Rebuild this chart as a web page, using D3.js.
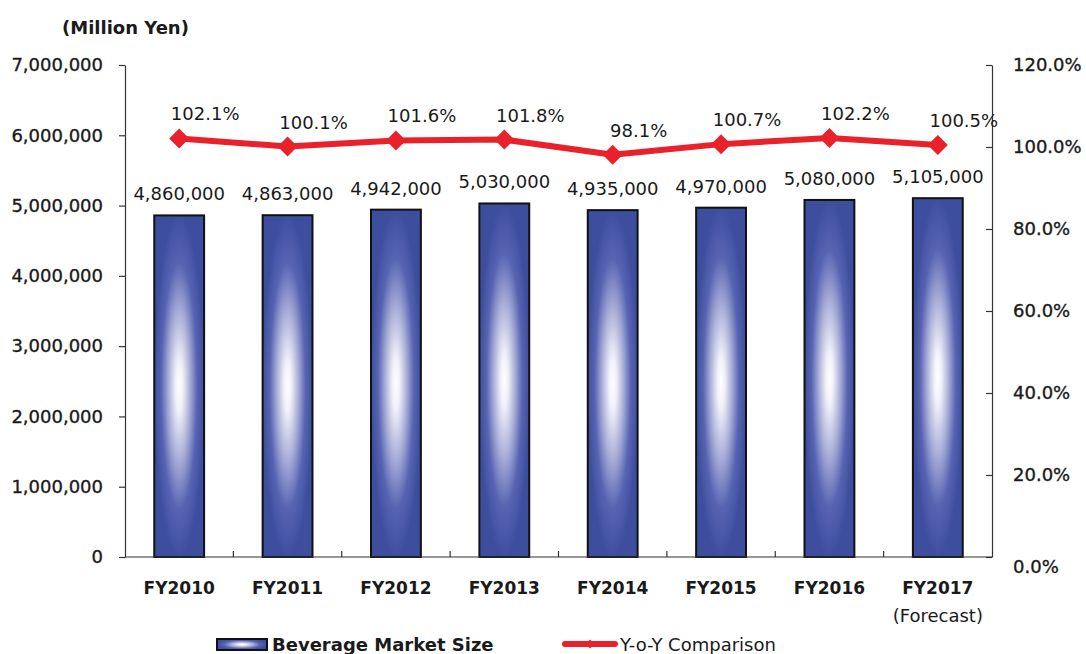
<!DOCTYPE html>
<meta charset="utf-8">
<head>
    <script src="https://d3js.org/d3.v7.min.js"></script>
    <style>
    body {
        margin: 0;
        background: #fff;
    }
    svg text {
        font-family: "DejaVu Sans", sans-serif;
        fill: #1a1a1a;
    }
    .axis path, .axis line {
        stroke: #333;
        stroke-width: 1.2;
    }
    .axis text {
        font-size: 18px;
        stroke: #1a1a1a;
        stroke-width: 0.35;
    }
    </style>
</head>
<body>
<script>

// chart data
var categories = ["FY2010", "FY2011", "FY2012", "FY2013", "FY2014", "FY2015", "FY2016", "FY2017\n(Forecast)"];
var marketSize = [4860000, 4863000, 4942000, 5030000, 4935000, 4970000, 5080000, 5105000];
var yoy = [102.1, 100.1, 101.6, 101.8, 98.1, 100.7, 102.2, 100.5];
var leftTicks = [0, 1000000, 2000000, 3000000, 4000000, 5000000, 6000000, 7000000];
var rightTicks = [0, 20, 40, 60, 80, 100, 120];

var width = 1086, height = 654;
var plot = {left: 125, right: 992, top: 65, bottom: 557};

var svg = d3.select("body").append("svg")
    .attr("width", width)
    .attr("height", height);

// gradients for the bars and the legend key
var defs = svg.append("defs");
var grad = defs.append("radialGradient")
    .attr("id", "barGrad")
    .attr("cx", 0.5).attr("cy", 0.5).attr("r", 0.5);
grad.append("stop").attr("offset", "0%").attr("stop-color", "#ffffff");
grad.append("stop").attr("offset", "15%").attr("stop-color", "#f0f0f8");
grad.append("stop").attr("offset", "45%").attr("stop-color", "#a4aad6");
grad.append("stop").attr("offset", "72%").attr("stop-color", "#5764b2");
grad.append("stop").attr("offset", "100%").attr("stop-color", "#3e4e9f");

// scales
var x = d3.scaleBand()
    .domain(categories)
    .range([plot.left, plot.right])
    .paddingInner(0.54)
    .paddingOuter(0.27);

var yL = d3.scaleLinear().domain([0, 7000000]).range([plot.bottom, plot.top]);
var yR = d3.scaleLinear().domain([0, 120]).range([plot.bottom, plot.top]);

// bars
svg.selectAll(".bar")
    .data(marketSize)
  .enter().append("rect")
    .attr("class", "bar")
    .attr("x", function(d, i) { return x(categories[i]); })
    .attr("y", function(d) { return yL(d); })
    .attr("width", x.bandwidth())
    .attr("height", function(d) { return yL(0) - yL(d); })
    .style("fill", "url(#barGrad)")
    .style("stroke", "#111")
    .style("stroke-width", 2);

// bar value labels
svg.selectAll(".barLabel")
    .data(marketSize)
  .enter().append("text")
    .attr("class", "barLabel")
    .attr("x", function(d, i) { return x(categories[i]) + x.bandwidth() / 2; })
    .attr("y", function(d) { return yL(d) - 15; })
    .attr("text-anchor", "middle")
    .style("font-size", "18px")
    .text(d3.format(","));

// left axis
svg.append("g")
    .attr("class", "axis")
    .attr("transform", "translate(" + plot.left + ",0)")
    .call(d3.axisLeft(yL)
        .tickValues(leftTicks)
        .tickSizeInner(6).tickSizeOuter(0)
        .tickPadding(16)
        .tickFormat(d3.format(",")));

// right axis
var rAxis = svg.append("g")
    .attr("class", "axis")
    .attr("transform", "translate(" + plot.right + ",0)")
    .call(d3.axisRight(yR)
        .tickValues(rightTicks)
        .tickSizeInner(-6).tickSizeOuter(0)
        .tickPadding(21)
        .tickFormat(function(d) { return d.toFixed(1) + "%"; }));
rAxis.selectAll(".tick")
    .filter(function(d) { return d === 0; })
    .select("text").attr("dy", "0.85em");

// bottom axis line with inward ticks between categories
svg.append("line")
    .attr("x1", plot.left).attr("x2", plot.right)
    .attr("y1", plot.bottom).attr("y2", plot.bottom)
    .style("stroke", "#333").style("stroke-width", 1.2);

svg.selectAll(".xtick")
    .data(categories.slice(1))
  .enter().append("line")
    .attr("class", "xtick")
    .attr("x1", function(d) { return x(d) - x.step() * x.paddingInner() / 2; })
    .attr("x2", function(d) { return x(d) - x.step() * x.paddingInner() / 2; })
    .attr("y1", plot.bottom).attr("y2", plot.bottom - 6)
    .style("stroke", "#333").style("stroke-width", 1.2);

// category labels
var catLabels = svg.selectAll(".catLabel")
    .data(categories)
  .enter().append("text")
    .attr("class", "catLabel")
    .attr("text-anchor", "middle")
    .attr("transform", function(d) {
        return "translate(" + (x(d) + x.bandwidth() / 2) + "," + 594 + ")";
    });
catLabels.each(function(d) {
    var parts = d.split("\n");
    var t = d3.select(this);
    parts.forEach(function(p, k) {
        t.append("tspan")
            .attr("x", 0)
            .attr("dy", k === 0 ? 0 : 28)
            .style("font-size", k === 0 ? "17px" : "18px")
            .style("font-weight", k === 0 ? "bold" : "normal")
            .text(p);
    });
});

// Y-o-Y line
var line = d3.line()
    .x(function(d, i) { return x(categories[i]) + x.bandwidth() / 2; })
    .y(function(d) { return yR(d); });

svg.append("path")
    .datum(yoy)
    .attr("d", line)
    .style("fill", "none")
    .style("stroke", "#e8212b")
    .style("stroke-width", 6)
    .style("stroke-linejoin", "round");

svg.selectAll(".marker")
    .data(yoy)
  .enter().append("path")
    .attr("class", "marker")
    .attr("d", d3.symbol().type(d3.symbolSquare).size(200))
    .attr("transform", function(d, i) {
        return "translate(" + (x(categories[i]) + x.bandwidth() / 2) + "," + yR(d) + ") rotate(45)";
    })
    .style("fill", "#e8212b");

svg.selectAll(".yoyLabel")
    .data(yoy)
  .enter().append("text")
    .attr("class", "yoyLabel")
    .attr("x", function(d, i) { return x(categories[i]) + x.bandwidth() / 2 + 26; })
    .attr("y", function(d) { return yR(d) - 18; })
    .attr("text-anchor", "middle")
    .style("font-size", "18px")
    .text(function(d) { return d.toFixed(1) + "%"; });

// unit title
svg.append("text")
    .attr("x", 62).attr("y", 34)
    .style("font-size", "18px")
    .style("font-weight", "bold")
    .text("(Million Yen)");

// legend
var legend = svg.append("g");
legend.append("rect")
    .attr("x", 217).attr("y", 639)
    .attr("width", 50).attr("height", 11)
    .style("fill", "url(#barGrad)")
    .style("stroke", "#111").style("stroke-width", 2);
legend.append("text")
    .attr("x", 272).attr("y", 651)
    .style("font-size", "18px")
    .style("font-weight", "bold")
    .text("Beverage Market Size");

legend.append("line")
    .attr("x1", 565).attr("x2", 615)
    .attr("y1", 644).attr("y2", 644)
    .style("stroke", "#e8212b").style("stroke-width", 6)
    .style("stroke-linecap", "round");
legend.append("path")
    .attr("d", d3.symbol().type(d3.symbolSquare).size(40))
    .attr("transform", "translate(590,644) rotate(45)")
    .style("fill", "#e8212b");
legend.append("text")
    .attr("x", 620).attr("y", 651)
    .style("font-size", "18px")
    .text("Y-o-Y Comparison");

</script>
</body>
